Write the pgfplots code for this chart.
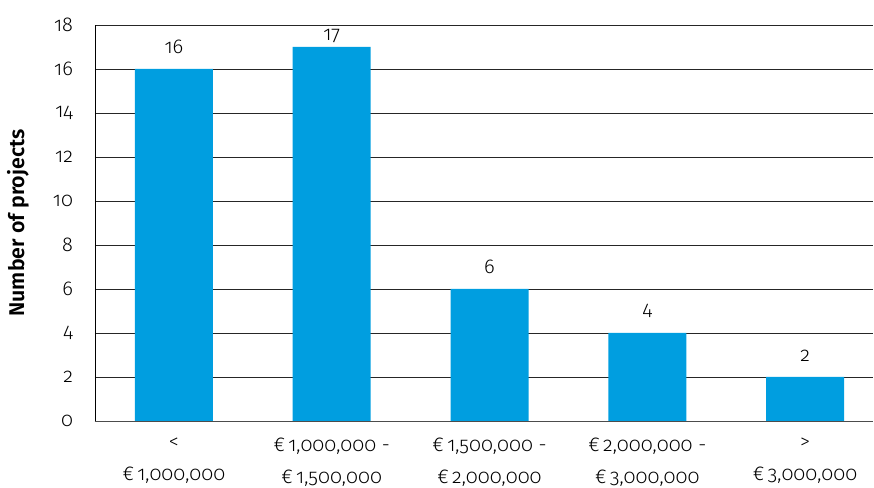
\documentclass[border=0pt]{standalone}
\usepackage{pgfplots}
\pgfplotsset{compat=1.18}
\usepackage{fontspec}
\setmainfont[Numbers=OldStyle]{Fira Sans Light}
\newfontfamily\boldfont{Fira Sans SemiBold}
\definecolor{barblue}{RGB}{0,158,224}
\begin{document}
\begin{tikzpicture}[x=1pt,y=1pt]
\begin{axis}[
  name=ax,
  scale only axis,
  width=583.5pt, height=297pt,
  xmin=-0.5, xmax=4.43,
  ymin=0, ymax=18,
  ytick={0,2,...,18},
  yticklabels={\textnormal{0},\textnormal{2},\textnormal{4},\textnormal{6},\textnormal{8},\textnormal{10},\textnormal{12},\textnormal{14},\textnormal{16},\textnormal{18}},
  xtick={0,1,2,3,4},
  xticklabels={{<\\€\,1,000,000},{€\,1,000,000 -\\€\,1,500,000},{€\,1,500,000 -\\€\,2,000,000},{€\,2,000,000 -\\€\,3,000,000},{>\\€\,3,000,000}},
  xticklabel style={align=center, font=\fontsize{15}{24}\selectfont},
  yticklabel style={font=\fontsize{15}{16}\selectfont},
  ymajorgrids,
  grid style={black!85, line width=0.7pt},
  major tick length=0pt,
  axis x line*=bottom,
  axis y line*=left,
  x axis line style={-, draw=black!70, line width=0.7pt},
  y axis line style={-, draw=black, line width=0.7pt},
  ylabel={\boldfont Number of projects},
  ylabel style={font=\fontsize{16}{16}\selectfont, at={(axis description cs:-0.099,0.5)}, anchor=center},
  yticklabel shift=13pt,
  xticklabel shift=9.5pt,
  ybar, bar width=58.5pt, bar shift=0pt,
  point meta=explicit symbolic,
  nodes near coords={\textnormal{\pgfplotspointmeta}},
  nodes near coords style={font=\fontsize{15}{16}\selectfont, black, yshift=8pt},
]
\addplot[fill=barblue, draw=none] coordinates {(0,16) [16] (1,17) [] (2,6) [6] (3,4) [4] (4,2) [2]};
\addplot[fill=none, draw=none, nodes near coords style={yshift=-8.25pt}] coordinates {(1,17) [17]};
\end{axis}
\pgfresetboundingbox
\path (ax.south west) ++(-71.25pt,-50.25pt) rectangle ([xshift=0.75pt,yshift=18.75pt]ax.north east);
\end{tikzpicture}
\end{document}
